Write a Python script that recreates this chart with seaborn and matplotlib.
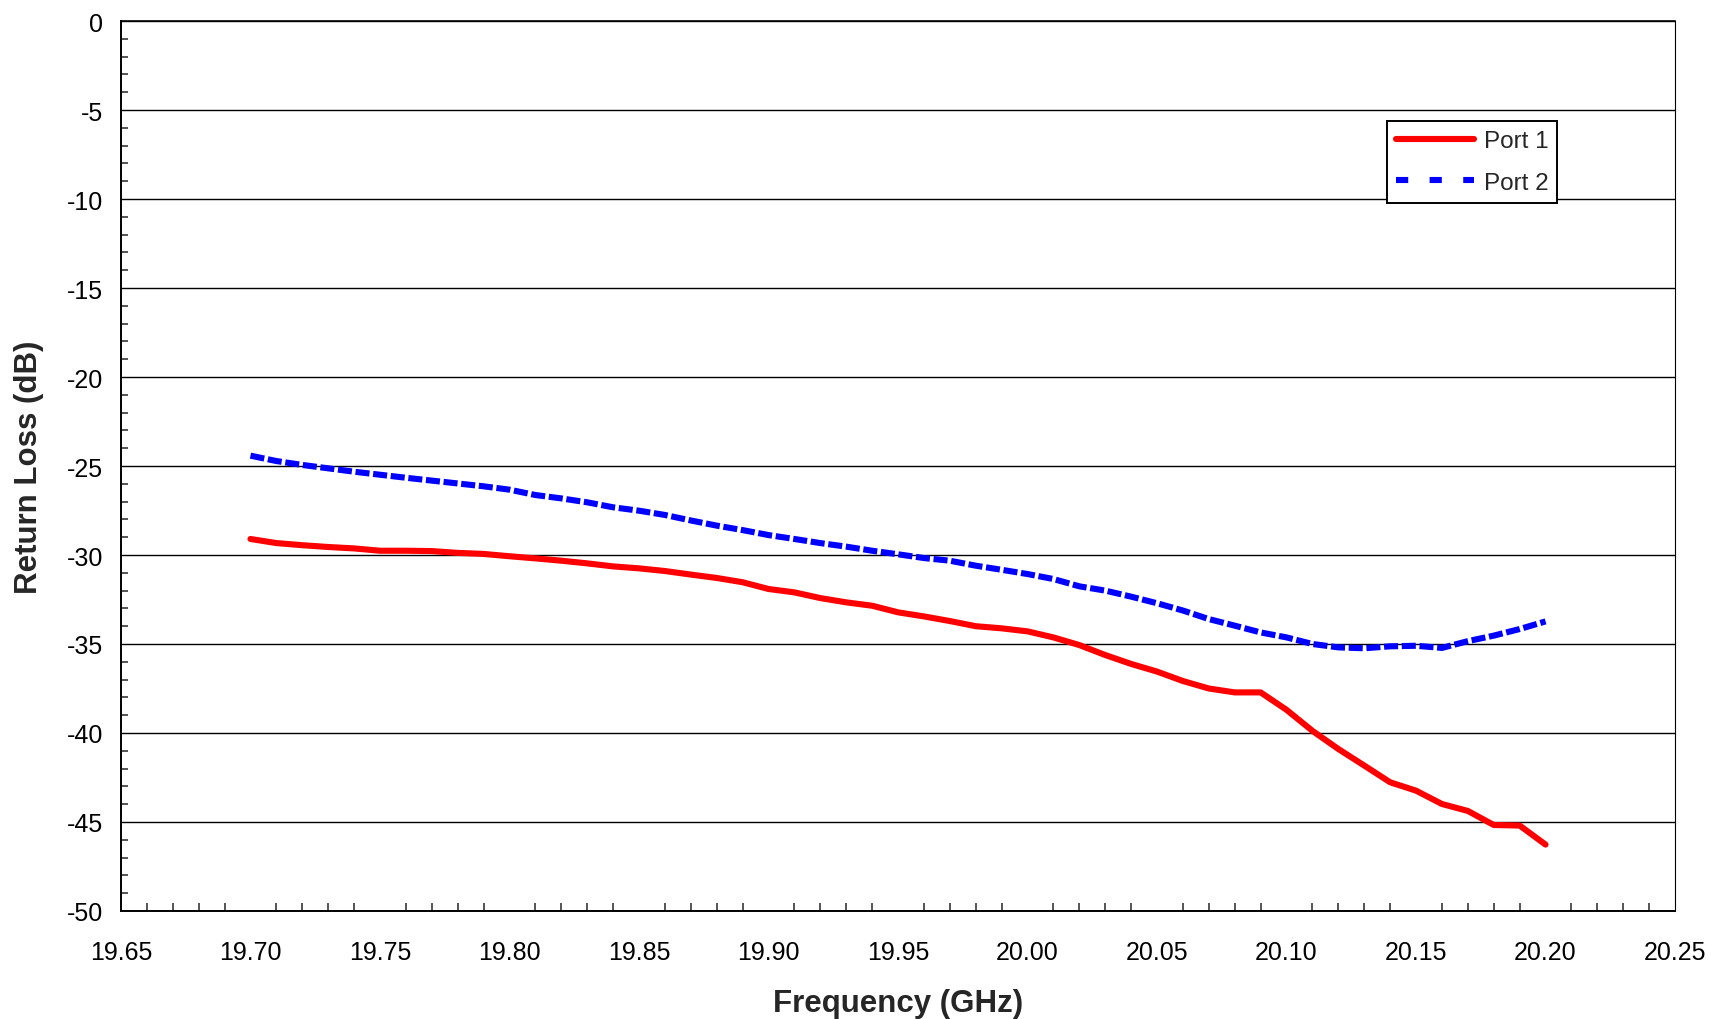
import seaborn as sns
import matplotlib.pyplot as plt
from matplotlib.ticker import MultipleLocator, FormatStrFormatter
import numpy as np
import pandas as pd

# frequency sweep, 10 MHz steps
freq = np.round(np.arange(19.70, 20.2001, 0.01), 2)

port1 = [-29.10, -29.33, -29.45, -29.55, -29.63, -29.76, -29.76, -29.78, -29.88, -29.94,
         -30.07, -30.19, -30.32, -30.47, -30.64, -30.75, -30.90, -31.10, -31.29, -31.53,
         -31.91, -32.10, -32.42, -32.66, -32.85, -33.22, -33.45, -33.71, -34.00, -34.12,
         -34.29, -34.63, -35.06, -35.62, -36.12, -36.55, -37.08, -37.50, -37.72, -37.72,
         -38.70, -39.88, -40.90, -41.83, -42.77, -43.24, -43.99, -44.38, -45.17, -45.20,
         -46.27]

port2 = [-24.42, -24.72, -24.94, -25.13, -25.32, -25.49, -25.66, -25.82, -25.98, -26.14,
         -26.33, -26.63, -26.82, -27.04, -27.32, -27.51, -27.75, -28.06, -28.35, -28.60,
         -28.88, -29.10, -29.33, -29.53, -29.76, -29.96, -30.17, -30.32, -30.60, -30.83,
         -31.07, -31.35, -31.76, -32.00, -32.34, -32.71, -33.12, -33.60, -33.97, -34.35,
         -34.63, -35.00, -35.19, -35.24, -35.13, -35.10, -35.22, -34.84, -34.53, -34.16,
         -33.73]

series_names = ["Port 1", "Port 2"]

df = pd.DataFrame({
    "freq": np.concatenate([freq, freq]),
    "rl": port1 + port2,
    "port": [series_names[0]] * len(freq) + [series_names[1]] * len(freq),
})

sns.set_style("white")
plt.rcParams['font.family'] = ['Liberation Sans', 'DejaVu Sans']
plt.rcParams['axes.unicode_minus'] = False

fig = plt.figure(figsize=(17.11, 10.20), dpi=100)
ax = fig.add_axes([0.0707, 0.1059, 0.9083, 0.8725])

sns.lineplot(data=df, x="freq", y="rl", hue="port", style="port",
             palette={"Port 1": "#ff0000", "Port 2": "#0000ff"},
             dashes={"Port 1": "", "Port 2": (2.3, 0.6)},
             linewidth=4.4, ax=ax)
for ln in ax.get_lines():
    ln.set_dash_capstyle("butt")
    ln.set_solid_capstyle("round")

ax.set_xlim(19.65, 20.25)
ax.set_ylim(-50, 0)
ax.xaxis.set_major_locator(MultipleLocator(0.05))
ax.xaxis.set_minor_locator(MultipleLocator(0.01))
ax.xaxis.set_major_formatter(FormatStrFormatter('%.2f'))
ax.yaxis.set_major_locator(MultipleLocator(5))
ax.yaxis.set_minor_locator(MultipleLocator(1))

ax.grid(axis="y", which="major", color="black", linewidth=1.0)
ax.set_axisbelow(True)

ax.tick_params(axis="x", which="major", direction="inout", length=13.5, width=1.1,
               labelsize=18, pad=14.5, colors="black")
ax.tick_params(axis="x", which="minor", direction="in", length=5.5, width=1.1, bottom=True)
ax.tick_params(axis="y", which="major", direction="out", length=6, width=1.1,
               labelsize=18, pad=7, colors="black")
ax.tick_params(axis="y", which="minor", direction="in", length=5, width=1.1, left=True)

for side in ["left", "bottom"]:
    ax.spines[side].set_linewidth(1.4)
    ax.spines[side].set_color("black")
ax.spines["top"].set_linewidth(1.2)
ax.spines["top"].set_color("black")
ax.spines["right"].set_linewidth(0.8)
ax.spines["right"].set_color("black")

ax.set_xlabel("Frequency (GHz)", fontsize=22.5, fontweight="bold")
ax.set_ylabel("Return Loss (dB)", fontsize=22.5, fontweight="bold")
ax.xaxis.set_label_coords(0.5, -0.086)
ax.yaxis.set_label_coords(-0.0495, 0.5)

handles, labels = ax.get_legend_handles_labels()
leg = ax.legend(handles, labels, loc="upper left", bbox_to_anchor=(0.8145, 0.8876),
                fontsize=17.5, frameon=True, fancybox=False, handlelength=3.2,
                handletextpad=0.4, borderpad=0.38, borderaxespad=0, labelspacing=0.8)
leg.get_frame().set_edgecolor("black")
leg.get_frame().set_linewidth(1.4)
leg.get_frame().set_alpha(1)
leg_lines = leg.get_lines()
leg_lines[1].set_dashes([2.0, 3.5])

fig.savefig("out.png", dpi=100)
